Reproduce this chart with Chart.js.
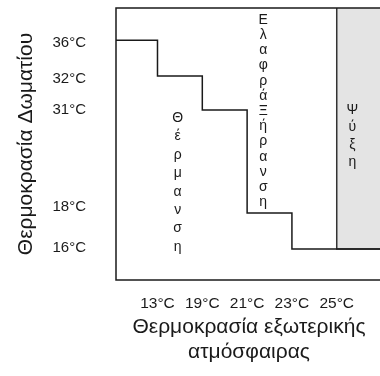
<!DOCTYPE html>
<html>
<head>
<meta charset="utf-8">
<script src="https://cdn.jsdelivr.net/npm/chart.js@4"></script>
<style>
  html, body { margin: 0; padding: 0; background: #fff; overflow: hidden; }
  #wrap { width: 382px; height: 376px; }
</style>
</head>
<body>
<div id="wrap"><canvas id="chart" width="382" height="376"></canvas></div>
<script>
// outside temperature (x) and room temperature (y) ticks
const outsideLabels = ['13°C', '19°C', '21°C', '23°C', '25°C'];
const outsideTicks = [1, 2, 3, 4, 5];
const roomLabels = ['36°C', '32°C', '31°C', '18°C', '16°C'];
const roomTicks = [6.97, 5.92, 5, 2.15, 0.94];

// step curve: each level is held from its x until the next one
const stepX = [0, 1, 2, 3, 4, 6.5];
const stepLevels = [7.05, 6, 5, 1.97, 0.91, 0.91];

// cooling zone (grey) from 25°C on
const coolX = [5, 5, 6.5];
const coolLevels = [8, 0.91, 0.91];

const zoneNames = ['Θέρμανση', 'ΕλαφράΞήρανση', 'Ψύξη'];

const FONT = "'Liberation Sans', Arial, Helvetica, sans-serif";
const INK = '#1a1a1a';

// frame around the plot
const framePlugin = {
  id: 'frame',
  afterDatasetsDraw(chart) {
    const a = chart.chartArea, ctx = chart.ctx;
    ctx.save();
    ctx.strokeStyle = INK;
    ctx.lineWidth = 1.5;
    ctx.strokeRect(a.left, a.top, a.right - a.left, a.bottom - a.top);
    ctx.restore();
  }
};

// vertical, letter-by-letter zone names
const zoneLayout = [
  { x: 1.45, y: 4.76, step: 18.4 },
  { x: 3.36, y: 7.65, step: 15.2 },
  { x: 5.35, y: 5.0, step: 17.5 }
];
const zonePlugin = {
  id: 'zones',
  afterDatasetsDraw(chart) {
    const ctx = chart.ctx, xs = chart.scales.x, ys = chart.scales.y;
    ctx.save();
    ctx.font = '14px ' + FONT;
    ctx.fillStyle = INK;
    ctx.textAlign = 'center';
    ctx.textBaseline = 'middle';
    zoneNames.forEach((name, i) => {
      const p = zoneLayout[i];
      const px = xs.getPixelForValue(p.x);
      const py = ys.getPixelForValue(p.y);
      Array.from(name).forEach((ch, j) => {
        ctx.fillText(ch, px, py + j * p.step);
      });
    });
    ctx.restore();
  }
};

new Chart(document.getElementById('chart'), {
  type: 'line',
  data: {
    datasets: [
      {
        label: 'cool',
        data: coolX.map((x, i) => ({ x: x, y: coolLevels[i] })),
        borderColor: '#333',
        borderWidth: 1.5,
        backgroundColor: '#e4e4e4',
        fill: 'end',
        pointRadius: 0,
        order: 2
      },
      {
        label: 'room',
        data: stepX.map((x, i) => ({ x: x, y: stepLevels[i] })),
        stepped: 'before',
        borderColor: INK,
        borderWidth: 1.5,
        fill: false,
        pointRadius: 0,
        order: 1
      }
    ]
  },
  options: {
    responsive: false,
    animation: false,
    devicePixelRatio: 1,
    layout: { padding: { top: 8, right: 0, bottom: 0, left: 0 } },
    plugins: { legend: { display: false }, tooltip: { enabled: false } },
    scales: {
      x: {
        type: 'linear',
        min: 0.074,
        max: 6.01,
        grid: { display: false, drawTicks: false },
        border: { display: false },
        afterBuildTicks: s => { s.ticks = outsideTicks.map(v => ({ value: v })); },
        afterFit: s => { s.height = 96; s.paddingLeft = 0; s.paddingRight = 0; },
        ticks: {
          autoSkip: false,
          maxRotation: 0,
          padding: 14,
          color: INK,
          font: { family: FONT, size: 15.5 },
          callback: (v, i) => outsideLabels[i]
        },
        title: {
          display: true,
          text: ['Θερμοκρασία εξωτερικής', 'ατμόσφαιρας'],
          color: INK,
          font: { family: FONT, size: 21, lineHeight: 1.2 },
          padding: { top: 0, bottom: 11 }
        }
      },
      y: {
        type: 'linear',
        min: 0,
        max: 8,
        grid: { display: false, drawTicks: false },
        border: { display: false },
        afterBuildTicks: s => { s.ticks = roomTicks.map(v => ({ value: v })); },
        afterFit: s => { s.width = 116; s.paddingTop = 0; s.paddingBottom = 0; },
        ticks: {
          autoSkip: false,
          padding: 30,
          color: INK,
          font: { family: FONT, size: 15 },
          callback: (v, i) => roomLabels[i]
        },
        title: {
          display: true,
          text: 'Θερμοκρασία Δωματίου',
          color: INK,
          font: { family: FONT, size: 21, lineHeight: 1.2 },
          padding: { top: 14, bottom: 0 }
        }
      }
    }
  },
  plugins: [framePlugin, zonePlugin]
});
</script>
</body>
</html>
